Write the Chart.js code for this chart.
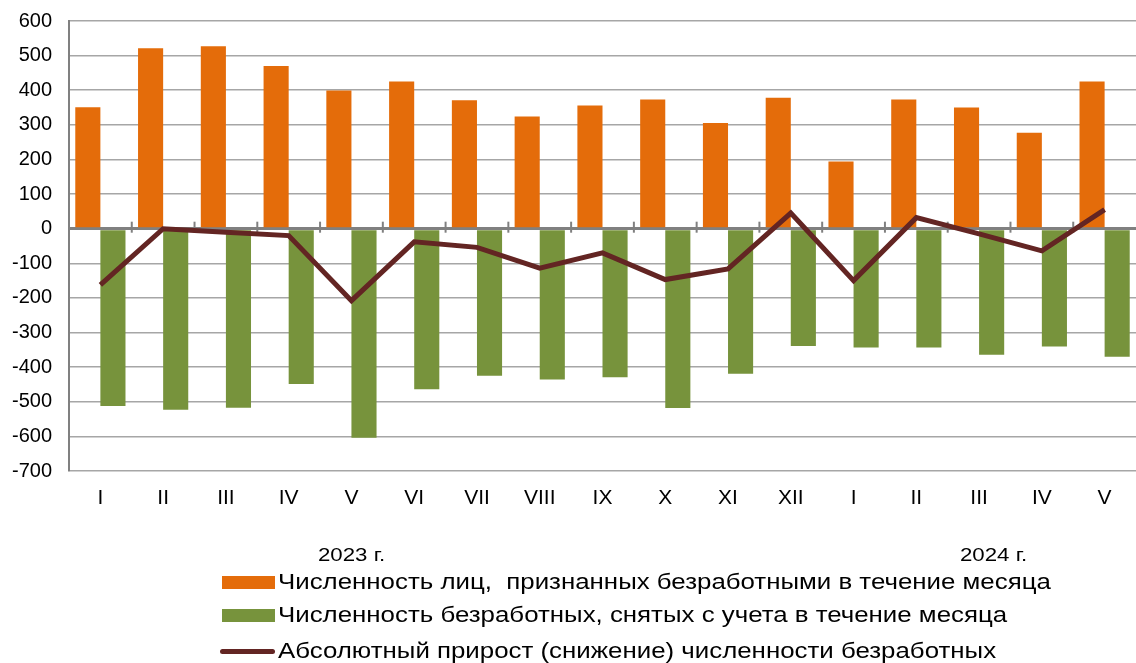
<!DOCTYPE html>
<html>
<head>
<meta charset="utf-8">
<script src="https://cdn.jsdelivr.net/npm/chart.js@4"></script>
<style>
  body { margin: 0; background: #fff; font-family: "Liberation Sans", Arial, sans-serif; overflow: hidden; }
  #wrap { position: relative; width: 1136px; height: 663px; overflow: hidden; }
  #cw { position: absolute; left: 0; top: -8px; width: 1136px; height: 671px; }
  .year { position: absolute; font-size: 19px; color: #000; top: 544px; transform: scaleX(1.17); transform-origin: left center; }
  .leg { position: absolute; left: 220px; font-size: 22px; color: #000; height: 26px; line-height: 26px; white-space: pre; }
  .leg i { display: inline-block; vertical-align: middle; margin-right: 3px; }
  .leg span { display: inline-block; vertical-align: middle; transform: scaleX(1.175); transform-origin: left center; }
</style>
</head>
<body>
<div id="wrap">
  <div id="cw"><canvas id="chart"></canvas></div>
  <div class="year" style="left:318px">2023 г.</div>
  <div class="year" style="left:960px">2024 г.</div>
  <div id="legend"></div>
</div>
<script>
const months = ["I", "II", "III", "IV", "V", "VI", "VII", "VIII", "IX", "X", "XI", "XII", "I", "II", "III", "IV", "V"];
const recognized = [351, 521, 527, 470, 399, 425, 371, 324, 356, 373, 305, 378, 194, 373, 350, 277, 425];
const removed = [-512, -523, -517, -449, -604, -464, -425, -436, -429, -518, -419, -339, -343, -343, -364, -340, -370];
const change = [-162, 0, -10, -20, -208, -38, -54, -114, -70, -147, -116, 45, -150, 32, -15, -64, 55];

// small tick marks on the zero line between months
const zeroTicks = {
  id: "zeroTicks",
  beforeDatasetsDraw(chart) {
    const x = chart.scales.x, y = chart.scales.y;
    const y0 = y.getPixelForValue(0);
    const c = chart.ctx;
    c.save();
    c.strokeStyle = "#808080";
    c.lineWidth = 2;
    for (let i = 1; i < months.length; i++) {
      const px = (x.getPixelForValue(i - 1) + x.getPixelForValue(i)) / 2;
      c.beginPath();
      c.moveTo(px, y0 - 7);
      c.lineTo(px, y0 + 4);
      c.stroke();
    }
    c.restore();
  }
};

const ctx = document.getElementById("chart").getContext("2d");
const chart = new Chart(ctx, {
  type: "bar",
  data: {
    labels: months,
    datasets: [
      {
        label: "Численность лиц,  признанных безработными в течение месяца",
        data: recognized,
        backgroundColor: "#E46C0A",
        order: 1,
      },
      {
        label: "Численность безработных, снятых с учета в течение месяца",
        data: removed,
        backgroundColor: "#77933C",
        order: 1,
      },
      {
        type: "line",
        label: "Абсолютный прирост (снижение) численности безработных",
        data: change,
        borderColor: "#632523",
        backgroundColor: "#632523",
        borderWidth: 5,
        pointRadius: 0,
        tension: 0,
        order: 0,
      },
    ],
  },
  options: {
    responsive: true,
    maintainAspectRatio: false,
    animation: false,
    layout: { autoPadding: false, padding: { top: 8, right: 0, left: 0, bottom: 0 } },
    datasets: {
      bar: { categoryPercentage: 0.8, barPercentage: 1 },
    },
    plugins: {
      legend: { display: false },
      tooltip: { enabled: false },
    },
    scales: {
      x: {
        grid: { display: false, drawTicks: false },
        border: { display: false },
        ticks: {
          color: "#000",
          padding: 15,
          maxRotation: 0,
          autoSkip: false,
          font: { family: "'Liberation Sans', Arial, sans-serif", size: 21 },
        },
        afterFit(scale) { scale.height = 192; },
      },
      y: {
        min: -700,
        max: 600,
        ticks: {
          stepSize: 100,
          color: "#000",
          padding: 17,
          font: { family: "'Liberation Sans', Arial, sans-serif", size: 20 },
        },
        grid: {
          drawTicks: false,
          color: (c) => (c.tick && c.tick.value === 0 ? "#808080" : "#A6A6A6"),
          lineWidth: (c) => (c.tick && c.tick.value === 0 ? 3 : 1.5),
        },
        border: { color: "#808080", width: 2 },
        afterFit(scale) { scale.width = 69; },
      },
    },
  },
  plugins: [zeroTicks],
});

// legend, one entry per row, built from the datasets
const legendTops = [568, 601, 637];
const legend = document.getElementById("legend");
chart.data.datasets.forEach((ds, i) => {
  const row = document.createElement("div");
  row.className = "leg";
  row.style.top = legendTops[i] + "px";
  const mark = document.createElement("i");
  if (ds.type === "line") {
    mark.style.cssText = "width:55px;height:5px;border-radius:3px;background:" + ds.borderColor;
  } else {
    mark.style.cssText = "width:53px;height:13px;margin-left:2px;background:" + ds.backgroundColor;
  }
  const text = document.createElement("span");
  text.textContent = ds.label;
  row.appendChild(mark);
  row.appendChild(text);
  legend.appendChild(row);
});
</script>
</body>
</html>
